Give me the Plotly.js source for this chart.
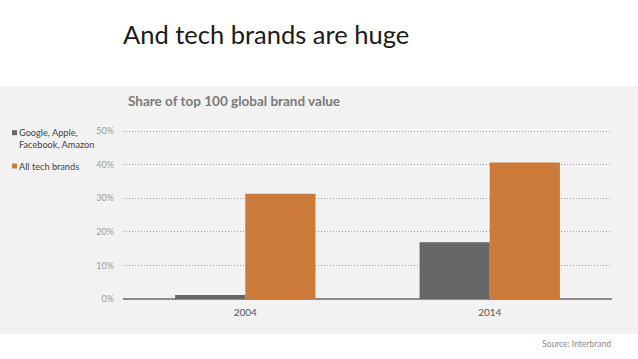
<!DOCTYPE html>
<html>
<head>
<meta charset="utf-8">
<script src="https://cdn.plot.ly/plotly-3.0.1.min.js"></script>
<style>
  html, body { margin: 0; padding: 0; background: #ffffff; }
  #chart { width: 638px; height: 359px; }
</style>
</head>
<body>
<div id="chart"></div>
<script>
// ---- Data ----
var years = ['2004', '2014'];
var seriesNames = ['Google, Apple,<br>Facebook, Amazon', 'All tech brands'];
var bigFourShare = [1.2, 16.9];
var allTechShare = [31.3, 40.6];
var seriesColors = ['#666666', '#cc7a3a'];
var yTickVals = [0, 10, 20, 30, 40, 50];
var yTickText = ['0%', '10%', '20%', '30%', '40%', '50%'];
var chartTitle = 'And tech brands are huge';
var chartSubtitle = 'Share of top 100 global brand value';
var sourceText = 'Source: Interbrand';

// ---- Layout geometry (pixels) ----
var W = 638, H = 359;
var mL = 123, mR = 26, mT = 130, mB = 60;
var plotW = W - mL - mR, plotH = H - mT - mB;
function px(x) { return (x - mL) / plotW; }
function py(y) { return (H - mB - y) / plotH; }

var FONT = 'Lato, "Open Sans", sans-serif';

var traces = [
  { type: 'bar', x: years, y: bigFourShare, name: seriesNames[0],
    marker: { color: seriesColors[0], line: { width: 0 } }, hoverinfo: 'skip' },
  { type: 'bar', x: years, y: allTechShare, name: seriesNames[1],
    marker: { color: seriesColors[1], line: { width: 0 } }, hoverinfo: 'skip' }
];

var annotations = [
  { xref: 'paper', yref: 'paper', x: px(126), y: py(101), xanchor: 'left', yanchor: 'middle',
    text: '<b>' + chartSubtitle + '</b>', showarrow: false,
    font: { family: FONT, size: 13.5, color: '#7a7a7a' } },
  { xref: 'paper', yref: 'paper', x: px(613), y: py(344), xanchor: 'right', yanchor: 'middle',
    text: sourceText, showarrow: false,
    font: { family: FONT, size: 8.5, color: '#8a8a8a' } }
];
var legendY = [[132.7, 144.7], [166]];
var shapes = [
  { type: 'rect', xref: 'paper', yref: 'paper', layer: 'below',
    x0: px(0), x1: px(W), y0: py(334), y1: py(86),
    fillcolor: '#f2f2f2', line: { width: 0 } }
];
seriesNames.forEach(function (name, i) {
  var lines = name.split('<br>');
  var top = legendY[i][0];
  shapes.push({ type: 'rect', xref: 'paper', yref: 'paper',
    x0: px(12), x1: px(17), y0: py(top + 2.5), y1: py(top - 2.5),
    fillcolor: seriesColors[i], line: { width: 0 } });
  lines.forEach(function (ln, j) {
    annotations.push({ xref: 'paper', yref: 'paper', x: px(16.5), y: py(legendY[i][j]),
      xanchor: 'left', yanchor: 'middle', text: ln, showarrow: false,
      font: { family: FONT, size: 9.2, color: '#444444' } });
  });
});

var layout = {
  width: W, height: H,
  margin: { l: mL, r: mR, t: mT, b: mB, pad: 0 },
  paper_bgcolor: '#ffffff',
  plot_bgcolor: 'rgba(0,0,0,0)',
  showlegend: false,
  title: { text: chartTitle, xref: 'container', yref: 'container',
    x: 123 / W, xanchor: 'left', y: 1 - 35 / H, yanchor: 'middle',
    font: { family: FONT, size: 25.5, color: '#1a1a1a' } },
  barmode: 'group',
  bargap: 0.426,
  bargroupgap: 0,
  xaxis: { type: 'category', range: [-0.5, 1.5], showgrid: false, showline: false,
    ticks: '', ticklabelstandoff: 6,
    tickfont: { family: FONT, size: 10, color: '#555555' }, fixedrange: true },
  yaxis: { range: [0, 50.3], tickmode: 'array', tickvals: yTickVals, ticktext: yTickText,
    showgrid: true, gridcolor: '#a0a0a0', griddash: '1px,2px', gridwidth: 1,
    zeroline: true, zerolinecolor: '#8c8c8c', zerolinewidth: 1.5,
    showline: false, ticks: '', ticklabelstandoff: 8,
    tickfont: { family: FONT, size: 9, color: '#9a9a9a' }, fixedrange: true },
  annotations: annotations,
  shapes: shapes
};

Plotly.newPlot('chart', traces, layout, { displayModeBar: false, staticPlot: true });
</script>
</body>
</html>
